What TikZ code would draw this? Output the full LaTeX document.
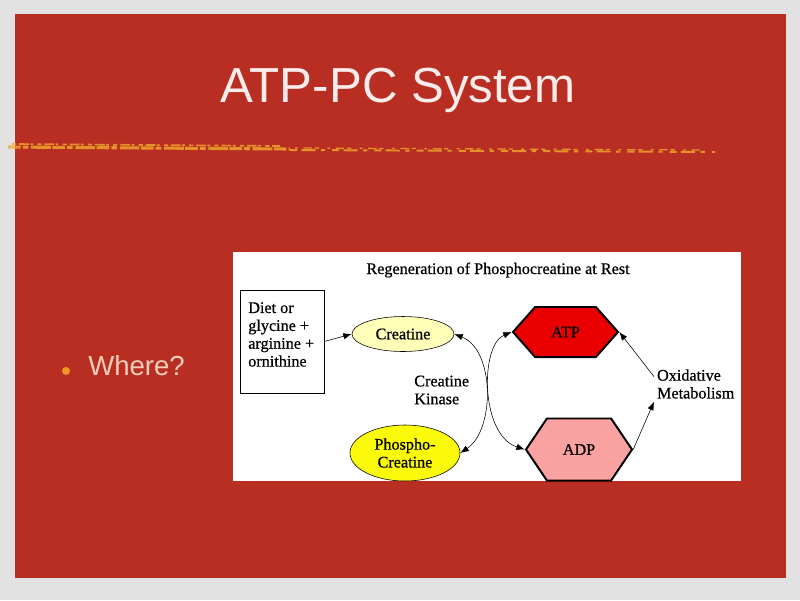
\documentclass[tikz,border=0pt]{standalone}
\usepackage{fontspec}
\setmainfont{Liberation Serif}
\setsansfont{Liberation Sans}
\newfontfamily\diagfont[FakeBold=0.6]{Liberation Serif}
\usepackage{tikz}
\usetikzlibrary{positioning,shapes,arrows.meta}

\definecolor{bggray}{RGB}{226,226,226}
\definecolor{slidered}{RGB}{184,46,34}
\definecolor{streakyel}{RGB}{242,172,45}
\definecolor{titlepink}{RGB}{250,236,234}
\definecolor{bulletpink}{RGB}{248,206,186}
\definecolor{bulletorange}{RGB}{240,150,40}
\definecolor{creatyel}{RGB}{255,255,185}
\definecolor{phosyel}{RGB}{250,250,10}
\definecolor{atpred}{RGB}{234,0,0}
\definecolor{adppink}{RGB}{250,162,162}

\begin{document}
\begin{tikzpicture}[x = .025cm, y = -.025cm,
  lbl/.style = {font = \diagfont\fontsize{11.5}{12.7}\selectfont, align = center, inner sep = 0pt},
  blob/.style = {ellipse, draw, thin, inner sep = 0pt},
  hexa/.style = {signal, signal to = west and east, draw, line width = 1.4pt, inner sep = 0pt},
  conn/.style = {-{Latex[length = 6pt, width = 4.5pt]}, thin},
  dbl/.style = {{Latex[length = 6pt, width = 4.5pt]}-{Latex[length = 6pt, width = 4.5pt]}, thin},
  streak/.style = {streakyel, opacity = .8}]
\useasboundingbox (0,0) rectangle (800,600);
\fill[bggray] (0,0) rectangle (800,600);
\fill[slidered] (15,14) rectangle (786,578);
% yellow streak under the title
\draw[streak, line width = 2.2pt, dash pattern = on 9pt off 1.5pt on 4pt off 2pt on 14pt off 1pt] (8,147) -- (290,149);
\draw[streak, line width = 1.2pt, dash pattern = on 3pt off 2pt on 7pt off 1pt on 2pt off 3pt] (12,144) -- (280,146);
\draw[streak, line width = 1.4pt, dash pattern = on 5pt off 3pt on 10pt off 4pt on 3pt off 5pt] (290,150) -- (715,152);
\draw[streak, line width = .9pt, dash pattern = on 2pt off 4pt on 6pt off 2pt on 3pt off 6pt] (295,148) -- (700,150);
\node (title) [anchor = base, font = \sffamily\fontsize{35}{40}\selectfont, text = titlepink] at (398,102) {ATP-PC System};
\fill[bulletorange] (66,371) circle (4);
\node (where) [anchor = base west, inner sep = 0pt, font = \sffamily\fontsize{19.6}{22}\selectfont, text = bulletpink] at (88,375) {Where?};
% the diagram
\fill[white] (233,252) rectangle (741,481);
\node (head) [lbl, anchor = base] at (498,274) {Regeneration of Phosphocreatine at Rest};
\node (diet) [draw, thin, minimum width = 2.1cm, minimum height = 2.575cm, inner sep = 0pt] at (282,341.5) {};
\node (dietlbl) [lbl, align = left, anchor = north west] at (248,302) {Diet or\\glycine +\\arginine +\\ornithine};
\node (creat) [blob, fill = creatyel, minimum width = 2.55cm, minimum height = .875cm] at (403,334) {};
\node[lbl] at (creat) {Creatine};
\node (phos) [blob, fill = phosyel, minimum width = 2.75cm, minimum height = 1.4cm] at (405,453) {};
\node[lbl] at (phos) {Phospho-\\Creatine};
\node (atp) [hexa, fill = atpred, minimum width = 2.625cm, minimum height = 1.25cm, signal pointer angle = 97] at (565.5,332) {};
\node[lbl] at (atp) {ATP};
\node (adp) [hexa, fill = adppink, minimum width = 2.65cm, minimum height = 1.55cm, signal pointer angle = 112] at (579,449.5) {};
\node[lbl] at (adp) {ADP};
\node (kinase) [lbl, align = left, anchor = west] at (414,390) {Creatine\\Kinase};
\node (oxid) [lbl, align = left, anchor = west, inner sep = 2pt] at (654,384) {Oxidative\\Metabolism};
\draw[conn] (diet.east) -- (creat.west);
\draw[dbl] (creat.east) .. controls (495,350) and (495,430) .. (phos.east);
\draw[dbl] (atp.west) .. controls (480,345) and (480,435) .. (adp.west);
\draw[conn] (adp.east) -- (oxid.south west);
\draw[conn] (oxid.170) -- (atp.east);
\end{tikzpicture}
\end{document}
